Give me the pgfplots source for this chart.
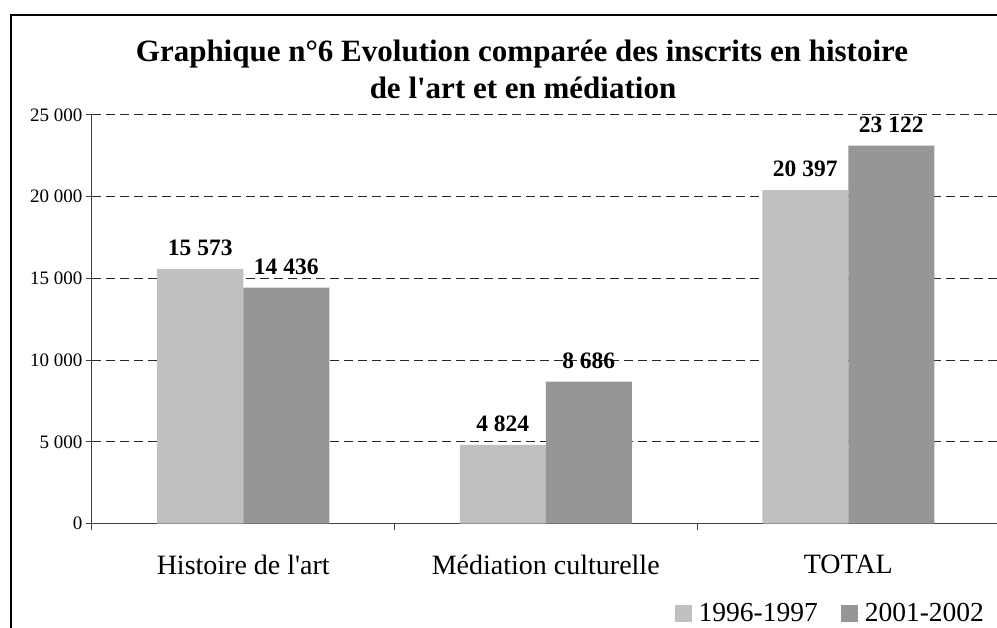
\documentclass[border=0pt]{standalone}
\usepackage{fontspec}
\setmainfont{Liberation Serif}
\usepackage{pgfplots}
\pgfplotsset{compat=1.18}
\definecolor{lightbar}{HTML}{C0C0C0}
\definecolor{darkbar}{HTML}{969696}
\begin{document}
\begin{tikzpicture}[x=1pt,y=1pt]
\useasboundingbox (0,0) rectangle (997,628);
\begin{axis}[
  at={(92pt,104.3pt)}, anchor=south west,
  scale only axis, width=907.5pt, height=408.7pt,
  xmin=-0.5, xmax=2.5, ymin=0, ymax=25000,
  enlargelimits=false,
  axis x line*=bottom, axis y line*=left,
  axis line style={black!75, line width=1pt},
  ybar=0pt, bar width=86pt,
  xtick={0,1,2}, xticklabels={Histoire de l\textquotesingle art, Médiation culturelle, TOTAL},
  minor xtick={-0.5,0.5,1.5,2.5},
  major x tick style={draw=none},
  tick style={black!75, line width=1pt},
  tick align=outside, major tick length=6pt, minor tick length=6pt,
  ytick={0,5000,10000,15000,20000,25000},
  yticklabels={0,5 000,10 000,15 000,20 000,25 000},
  scaled y ticks=false,
  yticklabel style={font=\fontsize{19}{19}\selectfont},
  xticklabel style={font=\fontsize{28}{28}\selectfont, yshift=-22pt},
  ymajorgrids,
  grid style={black!85, dash pattern=on 9pt off 5pt, line width=1pt},
  point meta=explicit symbolic,
  nodes near coords,
  every node near coord/.append style={font=\bfseries\fontsize{23.5}{23.5}\selectfont, anchor=south, inner sep=0pt, yshift=13pt, text=black},
  legend style={draw=none, fill=none, at={(0.642,-0.219)}, anchor=west, inner sep=0pt, outer sep=0pt, font=\fontsize{27.5}{30}\selectfont, /tikz/every even column/.append style={column sep=21pt}},
  legend columns=2,
  legend image code/.code={\fill[#1,draw=none] (0pt,-8.5pt) rectangle (17pt,8.5pt); \path (0pt,0pt) -- (22pt,0pt);},
]
\addplot[fill=lightbar, draw=none] coordinates {(0,15573)[15 573] (1,4824)[4 824] (2,20397)[20 397]};
\addplot[fill=darkbar, draw=none] coordinates {(0,14436)[14 436] (1,8686)[8 686] (2,23122)[23 122]};
\legend{1996-1997, 2001-2002}
\end{axis}
\node[anchor=base, font=\bfseries\fontsize{31}{31}\selectfont] at (522,566) {Graphique n°6 Evolution comparée des inscrits en histoire};
\node[anchor=base, font=\bfseries\fontsize{31}{31}\selectfont] at (523,529) {de l\textquotesingle art et en médiation};
\draw[line width=2pt, black] (11,-20) rectangle (1030,613);
\end{tikzpicture}
\end{document}
